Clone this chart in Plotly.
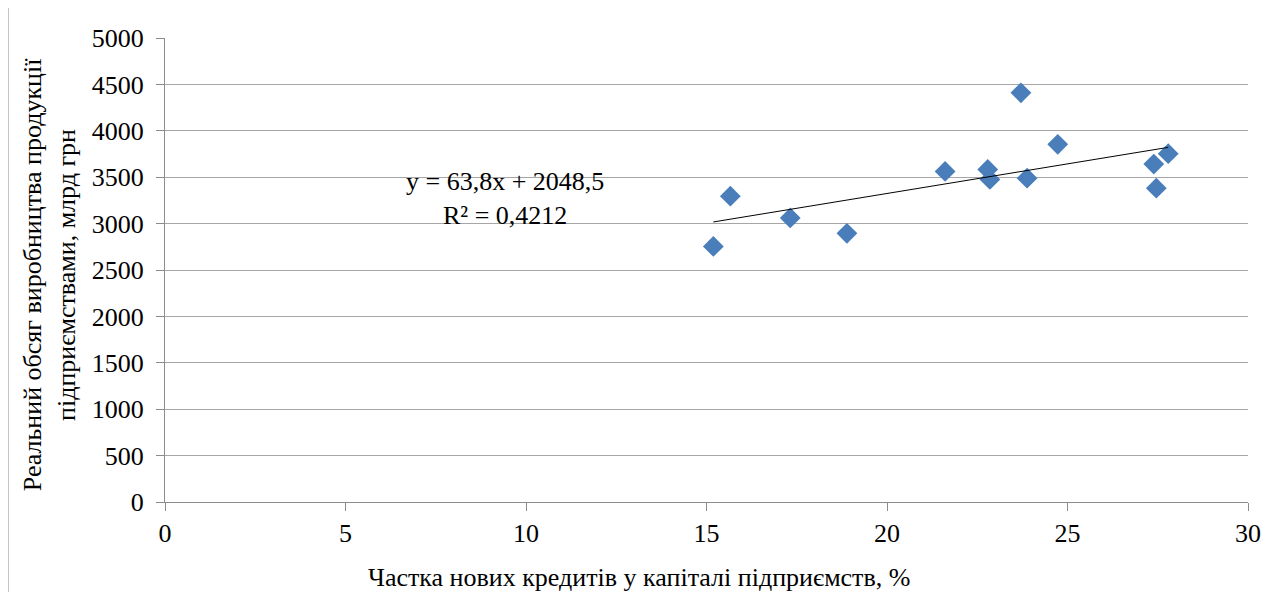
import plotly.graph_objects as go

# Частка нових кредитів у капіталі (%) та реальний обсяг виробництва (млрд грн)
credit_share = [15.19, 15.66, 17.32, 18.89, 21.61, 22.79, 22.85, 23.71, 23.88, 24.73, 27.39, 27.46, 27.79]
output_volume = [2754, 3295, 3061, 2895, 3562, 3584, 3476, 4409, 3490, 3854, 3641, 3382, 3754]

# лінійний тренд з підпису
slope = 63.8
intercept = 2048.5
r2_label = "0,4212"

x_ticks = [0, 5, 10, 15, 20, 25, 30]
y_ticks = [0, 500, 1000, 1500, 2000, 2500, 3000, 3500, 4000, 4500, 5000]

x_title = "Частка нових кредитів у капіталі підприємств, %"
y_title = "Реальний обсяг виробництва продукції<br>підприємствами, млрд грн"

FONT = "Liberation Serif"
txt = dict(family=FONT, size=26, color="black")

fig = go.Figure()

fig.add_trace(go.Scatter(
    x=credit_share, y=output_volume, mode="markers",
    marker=dict(symbol="diamond", size=16, color="#4a7ebb", line=dict(width=0)),
    showlegend=False,
))

x_min, x_max = min(credit_share), max(credit_share)
fig.add_trace(go.Scatter(
    x=[x_min, x_max], y=[slope * x_min + intercept, slope * x_max + intercept],
    mode="lines", line=dict(color="black", width=1), showlegend=False,
))

fig.add_annotation(
    x=9.42, y=3270, xref="x", yref="y", showarrow=False,
    text="y = 63,8x + 2048,5<br>R² = " + r2_label,
    font=txt, align="center",
)

# підписи осей (зміщені, як в оригіналі)
fig.add_annotation(
    x=0.4377, y=-0.162, xref="paper", yref="paper", showarrow=False,
    text=x_title, font=txt, xanchor="center", yanchor="middle",
)
fig.add_annotation(
    x=-0.107, y=0.489, xref="paper", yref="paper", showarrow=False,
    text=y_title, font=txt, textangle=-90, xanchor="center", yanchor="middle",
    align="center",
)

# рамка навколо діаграми
fig.add_shape(
    type="rect", xref="paper", yref="paper",
    x0=-0.145, x1=1.025, y0=-0.25, y1=1.067,
    line=dict(color="#b0b0b0", width=1.5), fillcolor="rgba(0,0,0,0)",
)

fig.update_layout(
    width=1280, height=592,
    margin=dict(l=157, r=40, t=30, b=98),
    paper_bgcolor="white", plot_bgcolor="white",
    font=txt,
    xaxis=dict(
        range=[0, 30], tickvals=x_ticks, showgrid=False, zeroline=False,
        showline=True, linecolor="#8c8c8c", linewidth=1,
        ticks="outside", ticklen=8, tickcolor="#8c8c8c", tickfont=txt,
    ),
    yaxis=dict(
        range=[0, 5000], tickvals=y_ticks, showgrid=True, gridcolor="#a6a6a6",
        gridwidth=1, zeroline=False, showline=True, linecolor="#8c8c8c", linewidth=1,
        ticks="outside", ticklen=8, tickcolor="#8c8c8c", tickfont=txt,
        ticklabelstandoff=7,
    ),
)

fig.write_html("out.html")
